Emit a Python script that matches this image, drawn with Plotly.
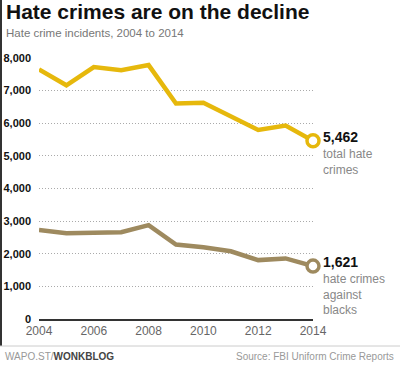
import plotly.graph_objects as go

years = [2004, 2005, 2006, 2007, 2008, 2009, 2010, 2011, 2012, 2013, 2014]
total = [7649, 7163, 7722, 7624, 7783, 6604, 6628, 6222, 5796, 5928, 5462]
blacks = [2731, 2630, 2640, 2658, 2876, 2284, 2201, 2076, 1805, 1856, 1621]
x_ticks = [2004, 2006, 2008, 2010, 2012, 2014]
y_ticks = [0, 1000, 2000, 3000, 4000, 5000, 6000, 7000, 8000]

GOLD = "#e6b80c"
BROWN = "#9e8a5f"
W, H = 400, 366
L, R, T, B = 39, 87, 58, 47
PW, PH = W - L - R, H - T - B
FONT = "Liberation Sans"

fig = go.Figure()
for vals, col, desc in [(total, GOLD, "total hate<br>crimes"),
                        (blacks, BROWN, "hate crimes<br>against<br>blacks")]:
    fig.add_trace(go.Scatter(x=years, y=vals, mode="lines", line=dict(color=col, width=4.5),
                             hoverinfo="skip", cliponaxis=False))
    fig.add_trace(go.Scatter(x=[years[-1]], y=[vals[-1]], mode="markers",
                             marker=dict(size=12, color="white", line=dict(color=col, width=3.5)),
                             hoverinfo="skip", cliponaxis=False))
    fig.add_annotation(x=years[-1], y=vals[-1], xref="x", yref="y", text=f"<b>{vals[-1]:,}</b>",
                       showarrow=False, xanchor="left", yanchor="middle", xshift=8, yshift=4,
                       font=dict(family=FONT, size=14, color="#111"))
    fig.add_annotation(x=years[-1], y=vals[-1], xref="x", yref="y", text=desc,
                       showarrow=False, xanchor="left", yanchor="top", xshift=8, yshift=-4,
                       align="left", font=dict(family=FONT, size=12, color="#888"))

fig.update_layout(
    width=W, height=H, showlegend=False,
    margin=dict(l=L, r=R, t=T, b=B),
    paper_bgcolor="white", plot_bgcolor="white",
    font=dict(family=FONT),
    xaxis=dict(range=[2004, 2014], tickvals=x_ticks, showgrid=False, zeroline=False,
               showline=True, linecolor="#333", linewidth=1.5, automargin=False,
               tickfont=dict(family=FONT, size=12, color="#666"), ticks=""),
    yaxis=dict(range=[0, 8000], tickvals=y_ticks, tickformat=",", showgrid=True,
               gridcolor="#aaa", griddash="1px,2px", gridwidth=1, zeroline=False,
               automargin=False,
               tickfont=dict(family=FONT, size=11, color="#111", weight="bold"),
               ticks="", ticklabelstandoff=7),
)

def px(x): return (x - L) / PW
def py(y): return (H - B - y) / PH

fig.add_annotation(x=px(4), y=py(11), xref="paper", yref="paper", xanchor="left", yanchor="middle",
                   text="<b>Hate crimes are on the decline</b>", showarrow=False,
                   font=dict(family=FONT, size=21, color="#111"))
fig.add_annotation(x=px(4), y=py(33), xref="paper", yref="paper", xanchor="left", yanchor="middle",
                   text="Hate crime incidents, 2004 to 2014", showarrow=False,
                   font=dict(family=FONT, size=11.5, color="#777"))
fig.add_annotation(x=px(3), y=py(356), xref="paper", yref="paper", xanchor="left", yanchor="middle",
                   text="WAPO.ST/<b><span style='color:#444'>WONKBLOG</span></b>", showarrow=False,
                   font=dict(family=FONT, size=10, color="#999"))
fig.add_annotation(x=px(396), y=py(356), xref="paper", yref="paper", xanchor="right", yanchor="middle",
                   text="Source: FBI Uniform Crime Reports", showarrow=False,
                   font=dict(family=FONT, size=10, color="#999"))

fig.add_shape(type="line", xref="paper", yref="paper", x0=px(1), x1=px(1), y0=py(0), y1=py(346),
              line=dict(color="#333", width=2))
fig.add_shape(type="line", xref="paper", yref="paper", x0=px(0), x1=px(400), y0=py(346), y1=py(346),
              line=dict(color="#ccc", width=1))

fig.write_html("out.html", config={"displayModeBar": False},
               post_script="document.body.style.margin='0';document.body.style.overflow='hidden';")
